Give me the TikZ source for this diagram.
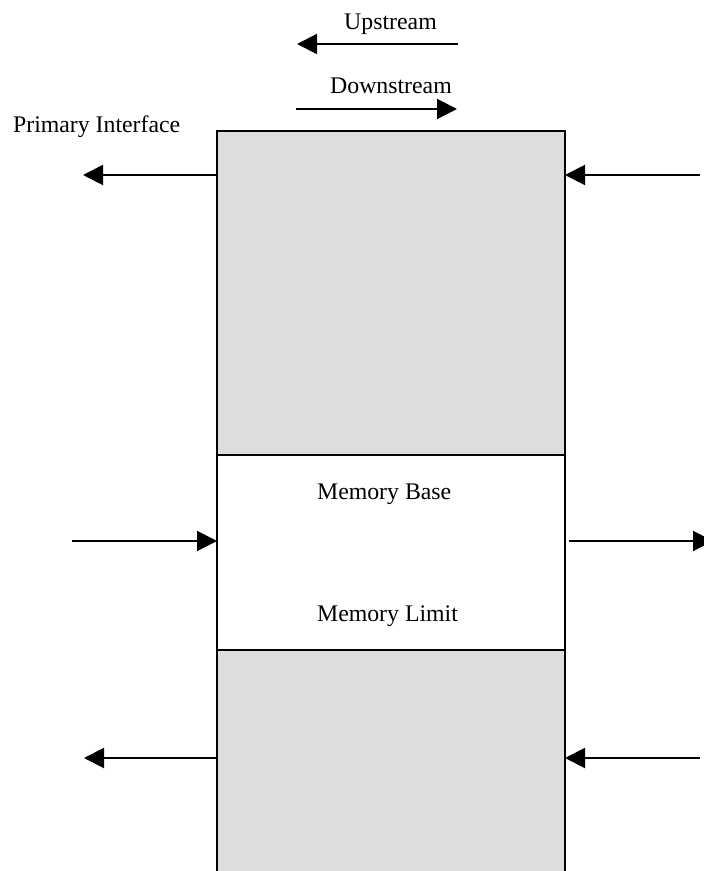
\documentclass[tikz,border=0pt]{standalone}
\usepackage{fontspec}
\setmainfont{Liberation Serif}
\usetikzlibrary{arrows.meta}
\definecolor{boxgray}{HTML}{DDDDDD}
\tikzset{
  blk/.style={draw=black, line width=1pt, inner sep=0pt, outer sep=0pt, anchor=north west, minimum width=174pt},
  lbl/.style={inner sep=0pt, font=\fontsize{11.9pt}{14pt}\selectfont},
  arr/.style={line width=1pt, -{Triangle[length=10pt,width=10pt]}}
}
\begin{document}
\begin{tikzpicture}[x=0.5pt,y=-0.5pt]
\useasboundingbox (0,0) rectangle (704,871);
% blocks
\node[blk, fill=boxgray, minimum height=162pt] (top) at (217,131) {};
\node[blk, fill=white, minimum height=97.5pt] (mid) at (217,455) {};
\node[blk, fill=boxgray, minimum height=130pt] (bot) at (217,650) {};
% labels
\node[lbl, anchor=base] (up) at (390.5,30) {Upstream};
\node[lbl, anchor=base] (down) at (391,93.3) {Downstream};
\node[lbl, anchor=base west] (pri) at (12.7,132.7) {Primary Interface};
\node[lbl, anchor=base west] (mbase) at (316.7,499.3) {Memory Base};
\node[lbl, anchor=base west] (mlim) at (316.7,621) {Memory Limit};
% free ends
\coordinate (upS) at (458,44);
\coordinate (upE) at (297,44);
\coordinate (dnS) at (296,109);
\coordinate (dnE) at (457,109);
\coordinate (tl) at (83,175);
\coordinate (tr) at (700,175);
\coordinate (ml) at (72,541);
\coordinate (mr) at (713,541);
\coordinate (bl) at (84,758);
\coordinate (br) at (700,758);
% arrows
\draw[arr] (upS) -- (upE);
\draw[arr] (dnS) -- (dnE);
\draw[arr] (top.west |- tl) -- (tl);
\draw[arr] (tr) -- (top.east |- tr);
\draw[arr] (ml) -- (mid.west |- ml);
\draw[arr, shorten <=2pt] (mid.east |- mr) -- (mr);
\draw[arr] (bot.west |- bl) -- (bl);
\draw[arr] (br) -- (bot.east |- br);
\end{tikzpicture}
\end{document}
